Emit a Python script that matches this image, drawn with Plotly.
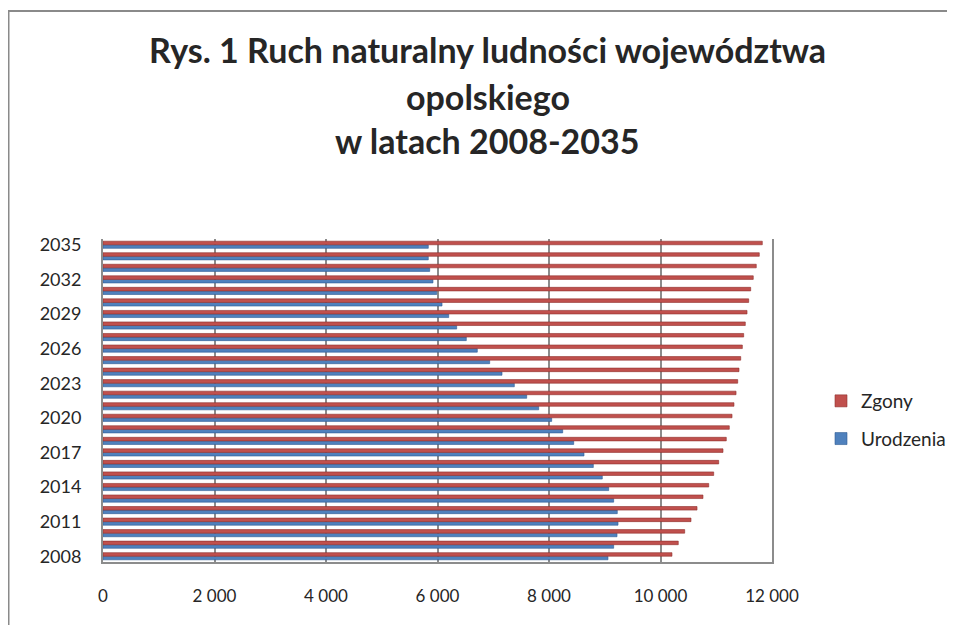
import plotly.graph_objects as go

years = [str(y) for y in range(2008, 2036)]

urodzenia = [9058, 9160, 9220, 9238, 9225, 9160, 9071, 8956, 8795, 8628,
             8443, 8246, 8048, 7815, 7600, 7378, 7157, 6936, 6714, 6517,
             6344, 6201, 6081, 5986, 5919, 5860, 5835, 5835]

zgony = [10206, 10319, 10434, 10547, 10655, 10762, 10865, 10954, 11044, 11121,
         11180, 11234, 11283, 11318, 11355, 11385, 11408, 11439, 11468, 11492,
         11521, 11552, 11582, 11618, 11664, 11718, 11772, 11826]

year_ticks = [str(y) for y in range(2008, 2036, 3)]
x_ticks = [0, 2000, 4000, 6000, 8000, 10000, 12000]

title_lines = ["Rys. 1 Ruch naturalny ludności województwa", "opolskiego", "w latach 2008-2035"]

OFF = 8  # page body margin
W, H = 975, 625 - OFF
L, R, T, B = 103 - OFF, 772 - OFF, 239 - OFF, 562 - OFF


def px_to_paper_x(px):
    return (px - OFF - L) / (R - L)


def px_to_paper_y(py):
    return (B - (py - OFF)) / (B - T)


FONT = "Lato, 'Open Sans', sans-serif"

fig = go.Figure()
fig.add_trace(go.Bar(
    y=years, x=urodzenia, orientation="h", name="Urodzenia",
    marker=dict(color="#4F81BD", line=dict(color="#2f5d93", width=0.6)),
    legendrank=2, legendgroup="u",
))
fig.add_trace(go.Bar(
    y=years, x=zgony, orientation="h", name="Zgony",
    marker=dict(color="#C0504D", line=dict(color="#8f2f2c", width=0.6)),
    legendrank=1, legendgroup="z",
))

annotations = []
title_y = [50, 96, 140]
for line, ty in zip(title_lines, title_y):
    annotations.append(dict(
        text="<b>" + line + "</b>", x=px_to_paper_x(487.5), y=px_to_paper_y(ty),
        xref="paper", yref="paper", xanchor="center", yanchor="middle",
        showarrow=False, font=dict(family=FONT, size=34, color="#262626"),
    ))

fig.update_layout(
    width=W, height=H,
    margin=dict(l=L, r=W - R, t=T, b=H - B),
    paper_bgcolor="white", plot_bgcolor="white",
    barmode="group", bargap=0.38, bargroupgap=0,
    separators=", ",
    font=dict(family=FONT, size=16, color="#262626"),
    annotations=annotations,
    showlegend=True,
    legend=dict(
        x=px_to_paper_x(821), y=px_to_paper_y(420), xanchor="left", yanchor="middle",
        font=dict(family=FONT, size=19, color="#262626"),
        tracegroupgap=10, bgcolor="rgba(0,0,0,0)",
    ),
    shapes=[dict(
        type="rect", xref="paper", yref="paper",
        x0=px_to_paper_x(8.5), x1=px_to_paper_x(990),
        y0=px_to_paper_y(645), y1=px_to_paper_y(11),
        line=dict(color="#8a8a8a", width=2), fillcolor="rgba(0,0,0,0)", layer="below",
    )],
)

fig.update_xaxes(
    range=[0, 12000], tickvals=x_ticks, tickformat=",",
    showgrid=True, gridcolor="#8c8c8c", gridwidth=1.5,
    showline=True, linecolor="#8c8c8c", linewidth=2,
    zeroline=False, ticks="", ticklabelstandoff=18,
    tickfont=dict(family=FONT, size=17, color="#262626"),
)
fig.update_yaxes(
    type="category", categoryorder="array", categoryarray=years,
    tickmode="array", tickvals=year_ticks, ticktext=year_ticks,
    showgrid=False, showline=True, linecolor="#8c8c8c", linewidth=2, mirror=True,
    ticks="", ticklabelstandoff=16,
    tickfont=dict(family=FONT, size=18, color="#262626"),
)

fig.write_html("out.html")
